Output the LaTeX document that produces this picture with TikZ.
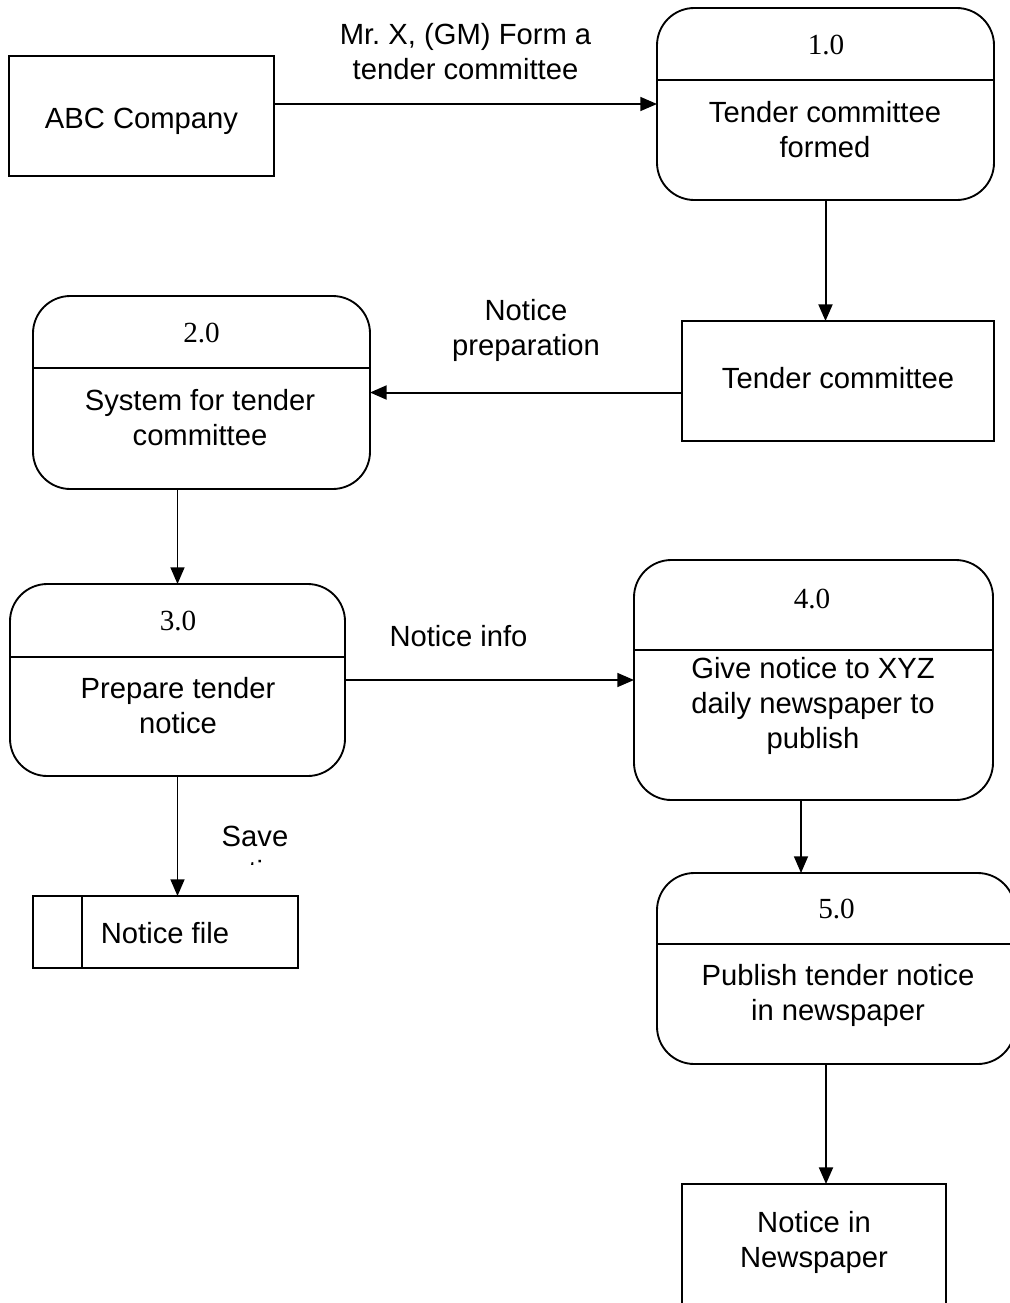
\documentclass[tikz,border=0pt]{standalone}
\usepackage{fontspec}
\setmainfont{Liberation Sans}
\newfontfamily\numfont{Liberation Serif}
\usetikzlibrary{arrows.meta}
\begin{document}
\begin{tikzpicture}[x=0.75pt,y=-0.75pt,
  box/.style={draw, line width=1.4pt, inner sep=0pt, outer sep=0pt},
  proc/.style={box, rounded corners=28pt},
  txt/.style={font=\fontsize{21.9}{26.25}\selectfont, align=center, inner sep=0pt},
  num/.style={font=\numfont\fontsize{21.9}{26.25}\selectfont, inner sep=0pt, anchor=base},
  divider/.style={line width=1.2pt},
  flow/.style={line width=1.5pt, -{Triangle[length=12.5pt,width=10.5pt]}},
  thinflow/.style={flow, line width=1.1pt}]
\useasboundingbox (0,0) rectangle (1010,1303);
\clip (0,0) rectangle (1010,1303);

% external entities and data store
\node[box, minimum width=198.75pt, minimum height=90pt] (abc) at (141.5,116) {};
\node[txt, anchor=base] (abct) at (141.5,128) {ABC Company};
\node[box, minimum width=234pt, minimum height=90pt] (tc) at (838,381) {};
\node[txt, anchor=base] (tct) at (838,388) {Tender committee};
\node[box, minimum width=198pt, minimum height=94.5pt] (nn) at (814,1247) {};
\node[txt] (nnt) at (814,1242) {Notice in\\Newspaper};
\node[box, minimum width=198.75pt, minimum height=54pt] (nf) at (165.5,932) {};
\draw[divider] (82,0 |- nf.north) -- (82,0 |- nf.south);
\node[txt, anchor=base] (nft) at (165,943) {Notice file};

% processes
\node[proc, minimum width=252.75pt, minimum height=144pt] (p1) at (825.5,104) {};
\draw[divider] (p1.west |- 0,80) -- (p1.east |- 0,80);
\node[num] (p1n) at (826,54) {1.0};
\node[txt] (p1t) at (825,130) {Tender committee\\formed};

\node[proc, minimum width=252.75pt, minimum height=144.75pt] (p2) at (201.5,392.5) {};
\draw[divider] (p2.west |- 0,368) -- (p2.east |- 0,368);
\node[num] (p2n) at (201.5,342) {2.0};
\node[txt] (p2t) at (200,418) {System for tender\\committee};

\node[proc, minimum width=251.25pt, minimum height=144pt] (p3) at (177.5,680) {};
\draw[divider] (p3.west |- 0,657) -- (p3.east |- 0,657);
\node[num] (p3n) at (178,630) {3.0};
\node[txt] (p3t) at (178,706) {Prepare tender\\notice};

\node[proc, minimum width=269.25pt, minimum height=180pt] (p4) at (813.5,680) {};
\draw[divider] (p4.west |- 0,650) -- (p4.east |- 0,650);
\node[num] (p4n) at (812,608) {4.0};
\node[txt] (p4t) at (813,705.5) {Give notice to XYZ\\daily newspaper to\\publish};

\node[proc, minimum width=268.5pt, minimum height=143.25pt] (p5) at (836,968.5) {};
\draw[divider] (p5.west |- 0,944) -- (p5.east |- 0,944);
\node[num] (p5n) at (836.5,918) {5.0};
\node[txt] (p5t) at (838,995) {Publish tender notice\\in newspaper};

% data flows
\coordinate (c801) at (801,0);
\coordinate (c826) at (826,0);
\draw[thinflow] (abc.east |- p1.west) -- (p1.west);
\draw[flow] (p1.south) -- (p1.south |- tc.north);
\draw[flow] (tc.west |- p2.east) -- (p2.east);
\draw[thinflow] (p2.south -| p3.north) -- (p3.north);
\draw[thinflow] (p3.east) -- (p4.west |- p3.east);
\draw[thinflow] (p3.south) -- (p3.south |- nf.north);
\draw[thinflow] (p4.south -| c801) -- (p5.north -| c801);
\draw[flow] (p5.south -| c826) -- (nn.north -| c826);

% flow labels
\node[txt] (l1) at (465.5,52) {Mr.\ X, (GM) Form a\\tender committee};
\node[txt] (l2) at (526,330) {Notice\\preparation};
\node[txt, anchor=base] (l3) at (458.5,646) {Notice info};
\begin{scope}
  \clip (180,800) rectangle (340,864);
  \node[txt] (l4) at (255,853.5) {Save\\notice};
\end{scope}
\end{tikzpicture}
\end{document}
